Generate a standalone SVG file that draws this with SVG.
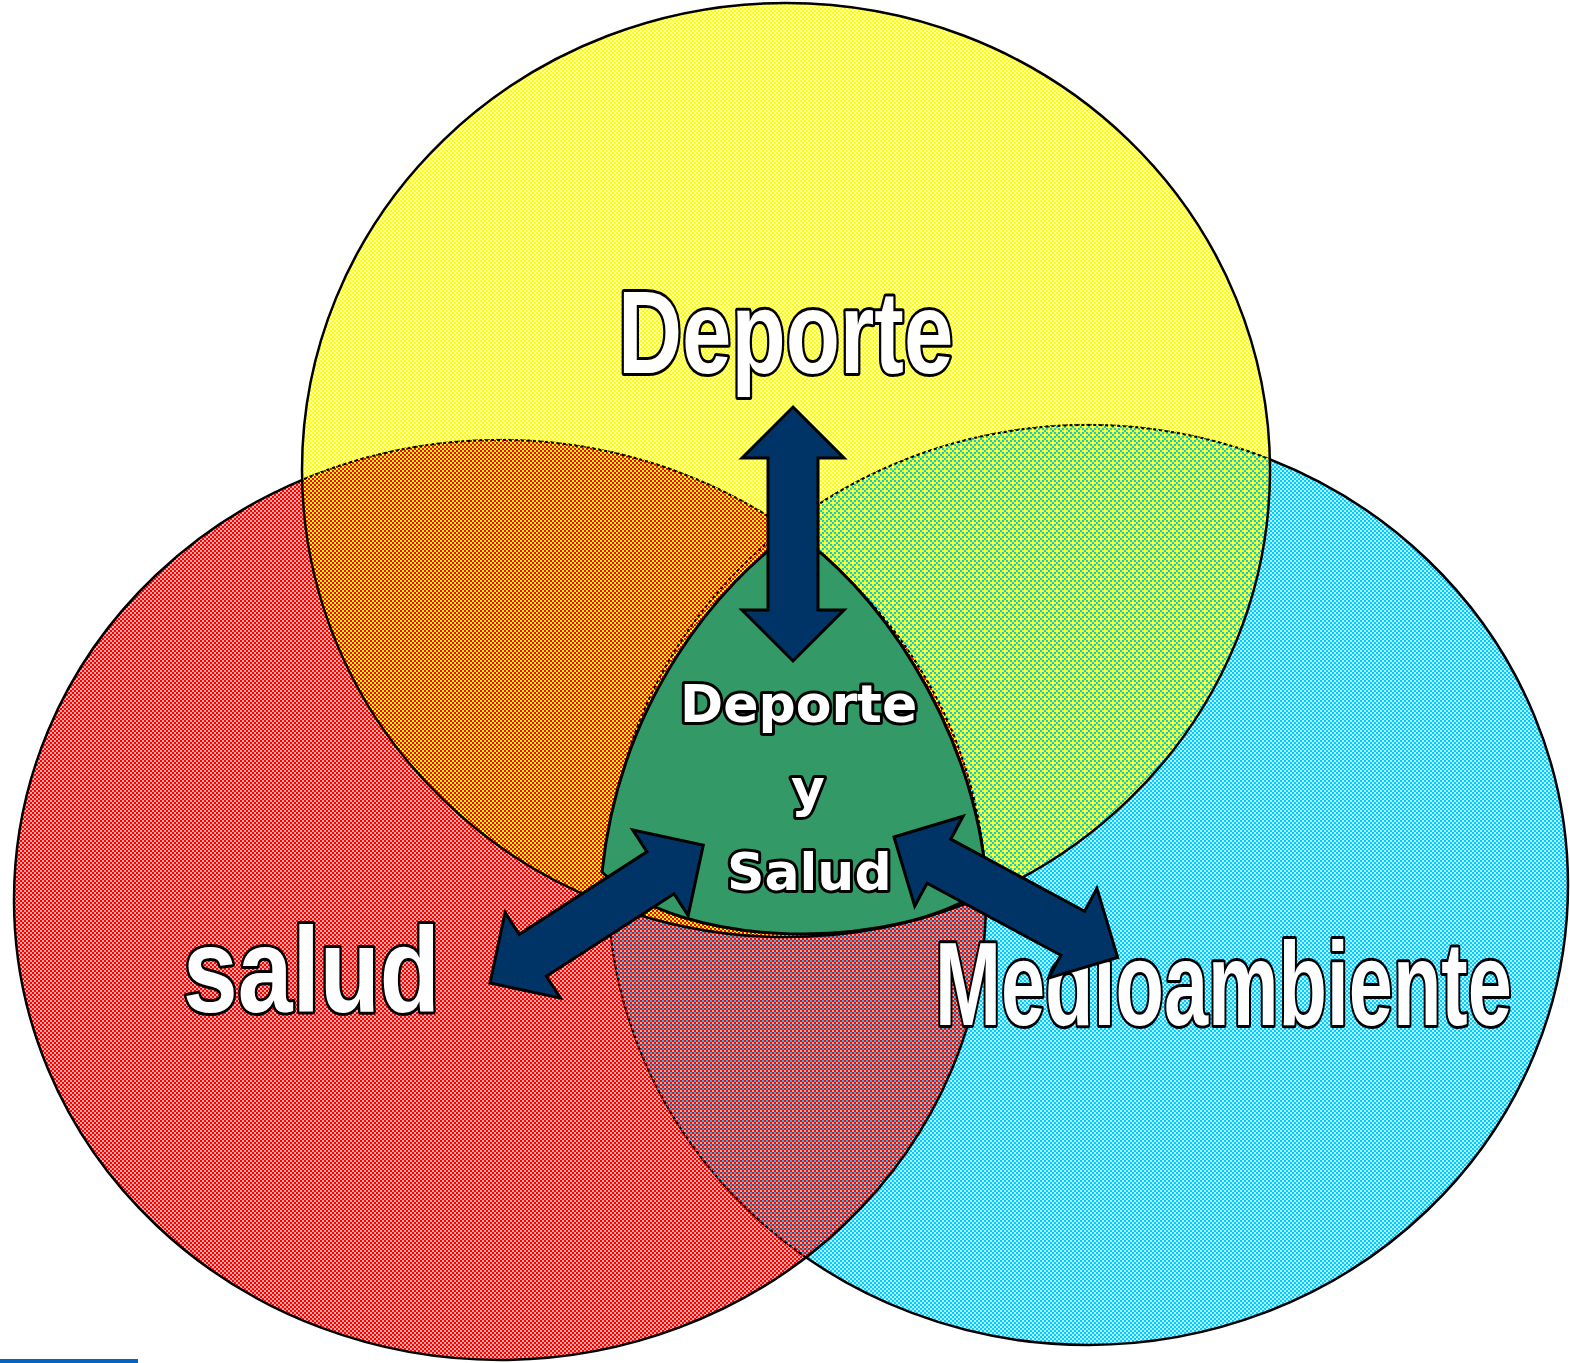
<svg xmlns="http://www.w3.org/2000/svg" width="1570" height="1363" viewBox="0 0 1570 1363">
<defs>
<pattern id="pY" patternUnits="userSpaceOnUse" x="0" y="0" width="8" height="8">
<rect width="8" height="8" fill="#FFFF00" fill-opacity="0.3"/>
<path fill="#FFFF00" shape-rendering="crispEdges" d="M0 0h2v2H0zM4 0h2v2H4zM2 2h2v2H2zM6 2h2v2H6zM0 4h2v2H0zM4 4h2v2H4zM2 6h2v2H2zM6 6h2v2H6z"/>
</pattern>
<pattern id="pR" patternUnits="userSpaceOnUse" x="0" y="0" width="8" height="8">
<rect width="8" height="8" fill="#FF0000" fill-opacity="0.35"/>
<path fill="#FF0000" shape-rendering="crispEdges" d="M0 0h2v2H0zM4 0h2v2H4zM2 2h2v2H2zM6 2h2v2H6zM0 4h2v2H0zM4 4h2v2H4zM2 6h2v2H2zM6 6h2v2H6z"/>
</pattern>
<pattern id="pC" patternUnits="userSpaceOnUse" x="0" y="0" width="8" height="8">
<rect width="8" height="8" fill="#00CCFF" fill-opacity="0.3"/>
<path fill="#00CCFF" shape-rendering="crispEdges" d="M0 0h2v2H0zM4 0h2v2H4zM2 2h2v2H2zM6 2h2v2H6zM0 4h2v2H0zM4 4h2v2H4zM2 6h2v2H2zM6 6h2v2H6z"/>
</pattern>
<pattern id="pYR" patternUnits="userSpaceOnUse" x="0" y="0" width="8" height="8">
<rect width="8" height="8" fill="#FF0000"/>
<path fill="#FFFF00" shape-rendering="crispEdges" d="M0 0h2v2H0zM4 0h2v2H4zM2 2h2v2H2zM6 2h2v2H6zM0 4h2v2H0zM4 4h2v2H4zM2 6h2v2H2zM6 6h2v2H6z"/>
</pattern>
<pattern id="pYC" patternUnits="userSpaceOnUse" x="0" y="0" width="8" height="8">
<rect width="8" height="8" fill="#FFFF66"/>
<path fill="#FFFF00" shape-rendering="crispEdges" d="M0 0h2v2H0zM4 0h2v2H4zM2 2h2v2H2zM6 2h2v2H6zM0 4h2v2H0zM4 4h2v2H4zM2 6h2v2H2zM6 6h2v2H6z"/>
<path fill="#00CCFF" shape-rendering="crispEdges" d="M2 0h2v2H2zM6 0h2v2H6zM2 4h2v2H2zM6 4h2v2H6zM0 2h2v2H0zM4 6h2v2H4z"/>
</pattern>
<pattern id="pRC" patternUnits="userSpaceOnUse" x="0" y="0" width="8" height="8">
<rect width="8" height="8" fill="#fff"/>
<rect width="8" height="8" fill="#FF0000" fill-opacity="0.35"/>
<path fill="#FF0000" shape-rendering="crispEdges" d="M0 0h2v2H0zM4 0h2v2H4zM2 2h2v2H2zM6 2h2v2H6zM0 4h2v2H0zM4 4h2v2H4zM2 6h2v2H2zM6 6h2v2H6z"/>
<path fill="#00CCFF" shape-rendering="crispEdges" d="M2 0h2v2H2zM6 0h2v2H6zM2 4h2v2H2zM6 4h2v2H6z"/>
</pattern>
<clipPath id="cY"><ellipse cx="786" cy="470" rx="484" ry="467"/></clipPath>
<clipPath id="cR"><ellipse cx="500" cy="900" rx="486" ry="460"/></clipPath>
<clipPath id="cC"><ellipse cx="1088" cy="885" rx="480" ry="460"/></clipPath>
<path id="dblArrow" d="M0 0L51 -51L51 -25L203 -25L203 -51L254 0L203 51L203 25L51 25L51 51Z"/>
</defs>
<style>
.edge{fill:none;stroke:#000;stroke-width:2.5}
.hidden{fill:none;stroke:#000;stroke-width:2;stroke-dasharray:3 3}
.big{font-family:"Liberation Sans",Arial,sans-serif;font-weight:bold;fill:#fff;stroke:#000;stroke-width:6;stroke-linejoin:round;paint-order:stroke}
.small{font-family:"DejaVu Sans",Verdana,sans-serif;font-weight:bold;font-size:52px;fill:#fff;stroke:#000;stroke-width:6;stroke-linejoin:round;paint-order:stroke}
.arrow{fill:#003366;stroke:#000;stroke-width:3;stroke-linejoin:miter}
</style>
<rect width="1570" height="1363" fill="#fff"/>
<g id="node-medioambiente">
<ellipse cx="1088" cy="885" rx="480" ry="460" fill="url(#pC)"/>
<ellipse class="edge" cx="1088" cy="885" rx="480" ry="460"/>
</g>
<g id="node-salud">
<ellipse cx="500" cy="900" rx="486" ry="460" fill="url(#pR)"/>
<ellipse cx="500" cy="900" rx="486" ry="460" fill="url(#pRC)" clip-path="url(#cC)"/>
<ellipse class="hidden" cx="1088" cy="885" rx="480" ry="460" clip-path="url(#cR)"/>
<ellipse class="edge" cx="500" cy="900" rx="486" ry="460"/>
</g>
<g id="node-deporte">
<ellipse cx="786" cy="470" rx="484" ry="467" fill="url(#pY)"/>
<ellipse cx="786" cy="470" rx="484" ry="467" fill="url(#pYC)" clip-path="url(#cC)"/>
<ellipse cx="786" cy="470" rx="484" ry="467" fill="url(#pYR)" clip-path="url(#cR)"/>
<ellipse class="hidden" cx="500" cy="900" rx="486" ry="460" clip-path="url(#cY)"/>
<ellipse class="hidden" cx="1088" cy="885" rx="480" ry="460" clip-path="url(#cY)"/>
<ellipse class="edge" cx="786" cy="470" rx="484" ry="467"/>
</g>
<g id="node-centro">
<path d="M793 532C720 582 620 700 602 872C680 952 900 952 987 887C975 720 870 582 793 532Z" fill="#339966" stroke="#000" stroke-width="3"/>
<text class="small" x="680" y="722">Deporte</text>
<text class="small" x="791" y="806">y</text>
<text class="small" x="727" y="890">Salud</text>
</g>
<g id="labels">
<text class="big" transform="translate(618 373) scale(0.765 1)" x="0" y="0" font-size="116">Deporte</text>
<text class="big" transform="translate(183 1012) scale(0.813 1)" x="0" y="0" font-size="121">salud</text>
<text class="big" transform="translate(935 1025) scale(0.666 1)" x="0" y="0" font-size="119">Medioambiente</text>
</g>
<g id="connectors">
<use href="#dblArrow" class="arrow" transform="translate(793 407) rotate(90)"/>
<use href="#dblArrow" class="arrow" transform="translate(490 983) rotate(-32.9)"/>
<use href="#dblArrow" class="arrow" transform="translate(894 837) rotate(28.3)"/>
</g>
<rect x="0" y="1359" width="138" height="4" fill="#0563C1"/>
</svg>
